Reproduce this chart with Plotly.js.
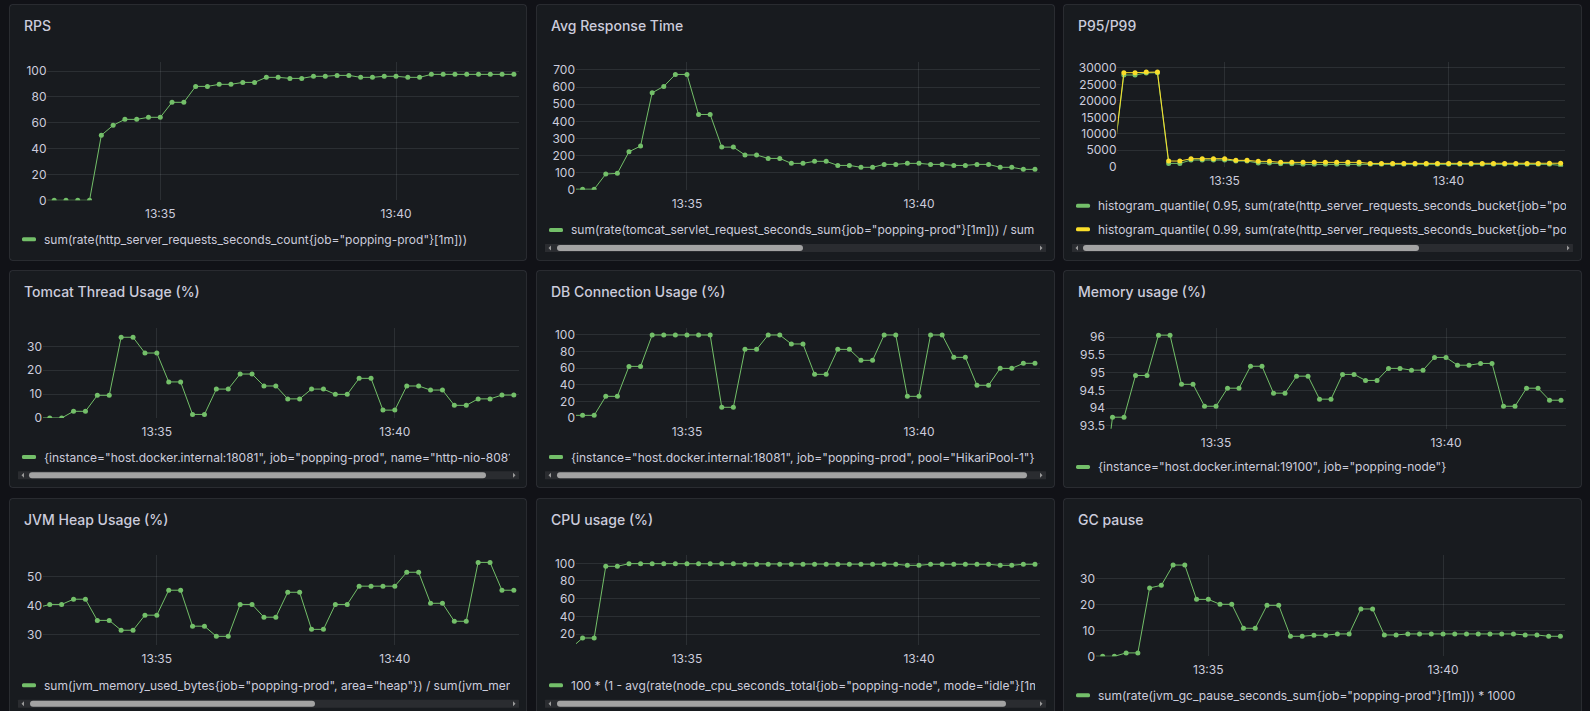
<!DOCTYPE html>
<html>
<head>
<meta charset="utf-8">
<script src="https://cdn.plot.ly/plotly-3.0.1.min.js"></script>
<style>
html, body { margin: 0; padding: 0; background: #111217; overflow: hidden; }
#dash { width: 1590px; height: 711px; }
</style>
</head>
<body>
<div id="dash"></div>
<script>
// Sample timestamps (15 s scrape interval); the first sample sits just before the visible window
const sampleTimes = [
  '13:32:30', '13:32:45', '13:33:00', '13:33:15', '13:33:30', '13:33:45', '13:34:00', '13:34:15',
  '13:34:30', '13:34:45', '13:35:00', '13:35:15', '13:35:30', '13:35:45', '13:36:00', '13:36:15',
  '13:36:30', '13:36:45', '13:37:00', '13:37:15', '13:37:30', '13:37:45', '13:38:00', '13:38:15',
  '13:38:30', '13:38:45', '13:39:00', '13:39:15', '13:39:30', '13:39:45', '13:40:00', '13:40:15',
  '13:40:30', '13:40:45', '13:41:00', '13:41:15', '13:41:30', '13:41:45', '13:42:00', '13:42:15',
  '13:42:30'
];
const xTickTimes = ['13:35:00', '13:40:00'];

const rps = [0, 0, 0, 0, 0, 50.3, 58, 62.6, 62.6, 64.2, 64.2, 75.8, 75.8, 88.1, 88.1, 89.7, 89.7,
  91.2, 91.2, 95.1, 95.1, 94.3, 94.3, 95.9, 95.9, 96.6, 96.6, 95.1, 95.1, 95.9, 95.9, 95.1, 95.1,
  97.4, 97.4, 97.4, 97.4, 97.4, 97.4, 97.4, 97.4];

const avgResponse = [3, 3, 3, 91.6, 95.5, 222, 255, 567, 604, 674, 674, 440, 440, 249, 249, 203, 203,
  183, 183, 154, 154, 166, 166, 142, 142, 131, 131, 148, 148, 154, 154, 148, 148, 142, 142, 148, 148,
  131, 131, 119, 119];

const p95 = [0, 27870, 27870, 28480, 28580, 1010, 1010, 2030, 2030, 2030, 2030, 1720, 1720, 1110, 1110,
  910, 910, 710, 710, 710, 710, 710, 710, 710, 710, 710, 710, 710, 710, 710, 710, 710, 710, 710, 710,
  710, 710, 710, 710, 710, 400];
const p99 = [0, 28580, 28580, 28780, 28780, 1720, 1720, 2430, 2430, 2430, 2430, 1930, 1930, 1620, 1620,
  1320, 1320, 1320, 1320, 1320, 1320, 1320, 1320, 1000, 1000, 1000, 1000, 1000, 1000, 1000, 1000, 1000,
  1000, 1000, 1000, 1000, 1000, 1000, 1000, 1050, 1050];

const tomcatThreads = [0, 0, 0, 2.8, 2.8, 9.5, 9.5, 33.8, 33.8, 27.2, 27.2, 15.1, 15.1, 1.5, 1.5,
  12.1, 12.1, 18.4, 18.4, 13.4, 13.4, 8.0, 8.0, 12.1, 12.1, 9.9, 9.9, 16.6, 16.6, 3.3, 3.3, 13.4, 13.4,
  11.7, 11.7, 5.3, 5.3, 8.0, 8.0, 9.6, 9.6];

const dbConnections = [3.2, 3.2, 3.2, 26.1, 26.1, 62.2, 62.2, 100, 100, 100, 100, 100, 100, 12.9, 12.9,
  82.7, 82.7, 100, 100, 89.2, 89.2, 52.6, 52.6, 82.7, 82.7, 69.5, 69.5, 100, 100, 26.1, 26.1, 100, 100,
  73.1, 73.1, 39.4, 39.4, 59.8, 59.8, 65.9, 65.9];

const memoryUsage = [91.2, 93.74, 93.74, 94.92, 94.92, 96.06, 96.06, 94.67, 94.67, 94.05, 94.05, 94.56,
  94.56, 95.18, 95.18, 94.42, 94.42, 94.90, 94.90, 94.25, 94.25, 94.95, 94.95, 94.78, 94.78, 95.12, 95.12,
  95.07, 95.07, 95.43, 95.43, 95.21, 95.21, 95.26, 95.26, 94.05, 94.05, 94.56, 94.56, 94.22, 94.22];

const jvmHeap = [39.2, 40.3, 40.3, 42.1, 42.1, 34.8, 34.8, 31.4, 31.4, 36.6, 36.6, 45.2, 45.2, 32.8, 32.8,
  29.3, 29.3, 40.3, 40.3, 35.9, 35.9, 44.5, 44.5, 31.7, 31.7, 40.3, 40.3, 46.6, 46.6, 46.6, 46.6, 51.4,
  51.4, 40.7, 40.7, 34.5, 34.5, 54.8, 54.8, 45.2, 45.2];

const cpuUsage = [4, 15.5, 15.5, 96.6, 96.6, 99.6, 99.6, 99.6, 99.6, 99.6, 99.6, 99.6, 99.6, 99.6, 99.6,
  98.9, 98.9, 98.9, 98.9, 98.9, 98.9, 98.9, 98.9, 98.9, 98.9, 98.9, 98.9, 98.9, 98.9, 97.7, 97.7, 98.9,
  98.9, 98.9, 98.9, 98.9, 98.9, 97.7, 97.7, 98.9, 98.9];

const gcPause = [0, 0, 0, 1.3, 1.3, 26.3, 27.3, 35.1, 35.1, 21.9, 21.9, 20.0, 20.0, 10.8, 10.8, 19.6, 19.6,
  7.7, 7.7, 8.1, 8.1, 8.6, 8.6, 18.2, 18.2, 8.2, 8.2, 8.6, 8.6, 8.6, 8.6, 8.6, 8.6, 8.6, 8.6, 8.6, 8.6,
  8.2, 8.2, 7.7, 7.7];

// Y-axis tick values per panel
const rpsTicks = [0, 20, 40, 60, 80, 100];
const avgResponseTicks = [0, 100, 200, 300, 400, 500, 600, 700];
const latencyTicks = [0, 5000, 10000, 15000, 20000, 25000, 30000];
const tomcatTicks = [0, 10, 20, 30];
const dbTicks = [0, 20, 40, 60, 80, 100];
const memoryTicks = [93.5, 94, 94.5, 95, 95.5, 96];
const heapTicks = [30, 40, 50];
const cpuTicks = [20, 40, 60, 80, 100];
const gcTicks = [0, 10, 20, 30];

// Panel titles and query legends
const panelTitles = ['RPS', 'Avg Response Time', 'P95/P99', 'Tomcat Thread Usage (%)',
  'DB Connection Usage (%)', 'Memory usage (%)', 'JVM Heap Usage (%)', 'CPU usage (%)', 'GC pause'];
const seriesNames = {
  rps: 'sum(rate(http_server_requests_seconds_count{job="popping-prod"}[1m]))',
  avg: 'sum(rate(tomcat_servlet_request_seconds_sum{job="popping-prod"}[1m])) / sum(rate(tomcat_servlet_request_seconds_count{job="popping-prod"}[1m]))',
  p95: 'histogram_quantile( 0.95, sum(rate(http_server_requests_seconds_bucket{job="popping-prod"}[1m])) by (le))',
  p99: 'histogram_quantile( 0.99, sum(rate(http_server_requests_seconds_bucket{job="popping-prod"}[1m])) by (le))',
  tomcat: '{instance="host.docker.internal:18081", job="popping-prod", name="http-nio-8081"}',
  db: '{instance="host.docker.internal:18081", job="popping-prod", pool="HikariPool-1"}',
  mem: '{instance="host.docker.internal:19100", job="popping-node"}',
  heap: 'sum(jvm_memory_used_bytes{job="popping-prod", area="heap"}) / sum(jvm_memory_max_bytes{job="popping-prod", area="heap"}) * 100',
  cpu: '100 * (1 - avg(rate(node_cpu_seconds_total{job="popping-node", mode="idle"}[1m])))',
  gc: 'sum(rate(jvm_gc_pause_seconds_sum{job="popping-prod"}[1m])) * 1000'
};

// ---- styling ----
const W = 1590, H = 711;
const GREEN = '#73bf69', YELLOW = '#fade2a';
const TEXT = '#ccccdc';
const GRID = 'rgba(240,250,255,0.09)';
const FONT = 'Inter, "Open Sans", sans-serif';
const DAY = '2024-05-20 ';
const xs = sampleTimes.map(s => DAY + s);
const xTicks = xTickTimes.map(s => DAY + s);
const xRange = [DAY + '13:32:36.5', DAY + '13:42:36.5'];

const COLS = [[9, 527], [536, 1055], [1063, 1582]];
const ROWS = [[4, 261], [270, 488], [498, 716]];
const TRACKS = [[18, 519], [545, 1046], [1072, 1573]];
const LEGEND_CLIP = [509, 1034, 1565];

// layout of each panel: grid cell, plot box [left, top, right, bottom] in px, y range
const panels = [
  { cell: [0, 0], plot: [47.5, 61.7, 519, 200.3], yr: [0, 107.2], ticks: rpsTicks,
    series: [{ y: rps, color: GREEN, name: seriesNames.rps }], legendY: [239.3] },
  { cell: [1, 0], plot: [576, 61.7, 1040, 189.7], yr: [0, 748.5], ticks: avgResponseTicks,
    series: [{ y: avgResponse, color: GREEN, name: seriesNames.avg }], legendY: [230], scroll: [248, 557, 803] },
  { cell: [2, 0], plot: [1117.5, 61.7, 1565.5, 166.7], yr: [0, 31915], ticks: latencyTicks,
    series: [{ y: p95, color: GREEN, name: seriesNames.p95 }, { y: p99, color: YELLOW, name: seriesNames.p99 }],
    legendY: [205.7, 229.3], scroll: [248, 1083, 1419] },
  { cell: [0, 1], plot: [43, 327.7, 519, 418], yr: [0, 37.8], ticks: tomcatTicks,
    series: [{ y: tomcatThreads, color: GREEN, name: seriesNames.tomcat }], legendY: [457], scroll: [475.3, 29, 486] },
  { cell: [1, 1], plot: [576, 327.7, 1040, 418], yr: [0, 108.8], ticks: dbTicks,
    series: [{ y: dbConnections, color: GREEN, name: seriesNames.db }], legendY: [457], scroll: [475.3, 557, 1027] },
  { cell: [2, 1], plot: [1106, 327.7, 1566, 428.7], yr: [93.415, 96.27], ticks: memoryTicks,
    series: [{ y: memoryUsage, color: GREEN, name: seriesNames.mem }], legendY: [467] },
  { cell: [0, 2], plot: [43, 555.3, 519, 645.5], yr: [26.14, 57.24], ticks: heapTicks,
    series: [{ y: jvmHeap, color: GREEN, name: seriesNames.heap }], legendY: [685.3], scroll: [703.7, 30, 315] },
  { cell: [1, 2], plot: [576, 555.3, 1040, 645.5], yr: [7.0, 109.05], ticks: cpuTicks,
    series: [{ y: cpuUsage, color: GREEN, name: seriesNames.cpu }], legendY: [685.3], scroll: [703.7, 557, 1006] },
  { cell: [2, 2], plot: [1096, 555.3, 1565.5, 656.3], yr: [0, 38.85], ticks: gcTicks,
    series: [{ y: gcPause, color: GREEN, name: seriesNames.gc }], legendY: [695.3] }
];

const X = v => +(v / W).toFixed(6);
const Y = v => +(1 - v / H).toFixed(6);

function roundRect(x0, y0, x1, y1, r) {
  return 'M' + X(x0 + r) + ',' + Y(y0) + ' L' + X(x1 - r) + ',' + Y(y0) +
    ' Q' + X(x1) + ',' + Y(y0) + ' ' + X(x1) + ',' + Y(y0 + r) +
    ' L' + X(x1) + ',' + Y(y1 - r) +
    ' Q' + X(x1) + ',' + Y(y1) + ' ' + X(x1 - r) + ',' + Y(y1) +
    ' L' + X(x0 + r) + ',' + Y(y1) +
    ' Q' + X(x0) + ',' + Y(y1) + ' ' + X(x0) + ',' + Y(y1 - r) +
    ' L' + X(x0) + ',' + Y(y0 + r) +
    ' Q' + X(x0) + ',' + Y(y0) + ' ' + X(x0 + r) + ',' + Y(y0) + ' Z';
}
function pathShape(path, fill, line, width, layer) {
  return { type: 'path', xref: 'paper', yref: 'paper', path: path, fillcolor: fill,
    line: { color: line || fill, width: width || 0 }, layer: layer || 'above' };
}

const traces = [];
const shapes = [];
const annotations = [];
const layout = {
  width: W, height: H,
  margin: { l: 0, r: 0, t: 0, b: 0, pad: 0 },
  paper_bgcolor: '#111217', plot_bgcolor: 'rgba(0,0,0,0)',
  showlegend: false, hovermode: false,
  font: { family: FONT, size: 12, color: TEXT }
};

panels.forEach((p, i) => {
  const k = i === 0 ? '' : String(i + 1);
  const [cx0, cx1] = COLS[p.cell[0]];
  const [ry0, ry1] = ROWS[p.cell[1]];
  const [L, T, R, B] = p.plot;

  // panel card
  shapes.push(pathShape(roundRect(cx0 + 0.5, ry0 + 0.5, cx1 - 0.5, ry1 - 0.5, 3),
    '#181b1f', 'rgba(204,204,220,0.12)', 1, 'below'));

  layout['xaxis' + k] = {
    domain: [X(L), X(R)], anchor: 'y' + k, type: 'date', range: xRange,
    tickmode: 'array', tickvals: xTicks, tickformat: '%H:%M', ticklabelstandoff: 5,
    showgrid: true, gridcolor: GRID, gridwidth: 1, zeroline: false, showline: false,
    ticks: '', tickfont: { family: FONT, size: 12, color: TEXT }, fixedrange: true
  };
  layout['yaxis' + k] = {
    domain: [Y(B), Y(T)], anchor: 'x' + k, range: p.yr,
    tickmode: 'array', tickvals: p.ticks, ticktext: p.ticks.map(String),
    showgrid: true, gridcolor: GRID, gridwidth: 1, zeroline: false, showline: false,
    ticks: '', tickfont: { family: FONT, size: 12, color: TEXT }, fixedrange: true
  };

  p.series.forEach(s => {
    traces.push({
      type: 'scatter', mode: 'lines+markers', x: xs, y: s.y, name: s.name,
      xaxis: 'x' + k, yaxis: 'y' + k,
      line: { color: s.color, width: 1 },
      marker: { color: s.color, size: 5, line: { width: 0 } },
      hoverinfo: 'skip'
    });
  });

  // title
  annotations.push({
    xref: 'paper', yref: 'paper', x: X(cx0 + 13), y: Y(ry0 + 21.3),
    xanchor: 'left', yanchor: 'middle', showarrow: false, text: panelTitles[i],
    font: { family: FONT, size: 14, color: TEXT, weight: 500 }
  });

  // legend rows (clipped at the scroll area like a horizontally scrolling legend)
  const [tx0, tx1] = TRACKS[p.cell[0]];
  const clipRight = LEGEND_CLIP[p.cell[0]];
  p.series.forEach((s, j) => {
    const ly = p.legendY[j];
    shapes.push(pathShape(roundRect(cx0 + 13, ly - 2, cx0 + 27, ly + 2, 1.5), s.color));
    annotations.push({
      xref: 'paper', yref: 'paper', x: X(cx0 + 34), y: Y(ly),
      xanchor: 'left', yanchor: 'middle', align: 'left', showarrow: false,
      width: clipRight - (cx0 + 34), height: 15, borderpad: 0,
      text: s.name, font: { family: FONT, size: 12, color: TEXT }
    });
  });

  // horizontal legend scrollbar
  if (p.scroll) {
    const [sy, th0, th1] = p.scroll;
    shapes.push(pathShape(roundRect(tx0, sy - 4, tx1, sy + 4, 0.5), '#2a2c30'));
    shapes.push(pathShape(roundRect(th0, sy - 3, th1, sy + 3, 3), '#a3a3a3'));
    shapes.push(pathShape('M' + X(tx0 + 6) + ',' + Y(sy - 2.5) + ' L' + X(tx0 + 3.5) + ',' + Y(sy) +
      ' L' + X(tx0 + 6) + ',' + Y(sy + 2.5) + ' Z', '#9a9a9a'));
    shapes.push(pathShape('M' + X(tx1 - 6) + ',' + Y(sy - 2.5) + ' L' + X(tx1 - 3.5) + ',' + Y(sy) +
      ' L' + X(tx1 - 6) + ',' + Y(sy + 2.5) + ' Z', '#9a9a9a'));
  }
});

layout.shapes = shapes;
layout.annotations = annotations;

Plotly.newPlot('dash', traces, layout, { staticPlot: true, displayModeBar: false });
</script>
</body>
</html>
